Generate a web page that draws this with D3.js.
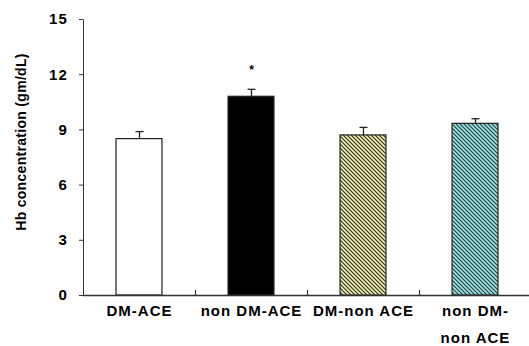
<!DOCTYPE html>
<html>
<head>
<meta charset="utf-8">
<script src="https://cdn.jsdelivr.net/npm/d3@7"></script>
<style>
  body { margin: 0; background: #fff; }
  svg { display: block; font-family: "Liberation Sans", Arial, sans-serif; }
</style>
</head>
<body>
<div id="chart"></div>
<script>
// values
const groups = ['DM-ACE', 'non DM-ACE', 'DM-non ACE', 'non DM-\nnon ACE'];
const means = [8.5, 10.8, 8.7, 9.33];
const errors = [0.38, 0.38, 0.41, 0.25];
const starred = [false, true, false, false];
const yTicks = [0, 3, 6, 9, 12, 15];

const width = 529, height = 346;
const margin = { top: 19, right: -2, bottom: 51, left: 83 };

const svg = d3.select('#chart').append('svg')
  .attr('width', width)
  .attr('height', height);

const defs = svg.append('defs');

// hatched fills for bars 3 and 4
function hatch(id, bg, fg) {
  const p = defs.append('pattern')
    .attr('id', id)
    .attr('patternUnits', 'userSpaceOnUse')
    .attr('width', 4)
    .attr('height', 4);
  p.append('rect').attr('width', 4).attr('height', 4).attr('fill', bg);
  p.append('path')
    .attr('d', 'M0,0 L4,4 M-1,3 L1,5 M3,-1 L5,1')
    .attr('stroke', fg)
    .attr('stroke-width', 1.2);
}
hatch('hatchKhaki', '#eeecb4', '#3a3a22');
hatch('hatchTeal', '#a2e2e2', '#1f4444');

const fills = ['#ffffff', '#000000', 'url(#hatchKhaki)', 'url(#hatchTeal)'];

const x = d3.scaleBand()
  .domain(groups)
  .range([margin.left, width - margin.right])
  .paddingInner(0.59)
  .paddingOuter(0.295);

const y = d3.scaleLinear()
  .domain([0, 15])
  .range([height - margin.bottom, margin.top]);

// y axis
const yAxis = svg.append('g')
  .attr('transform', `translate(${margin.left},0)`)
  .call(d3.axisLeft(y).tickValues(yTicks).tickSize(4).tickSizeOuter(0));
yAxis.select('.domain').attr('stroke', '#333');
yAxis.selectAll('.tick line').attr('stroke', '#333');
yAxis.selectAll('.tick text')
  .attr('x', -15)
  .attr('font-size', 15)
  .attr('font-weight', 'bold')
  .attr('letter-spacing', 1.2)
  .attr('font-family', '"Liberation Sans", Arial, sans-serif')
  .attr('fill', '#000');

svg.append('text')
  .attr('transform', `translate(26,${(y(0) + y(15)) / 2 - 15}) rotate(-90)`)
  .attr('text-anchor', 'middle')
  .attr('font-size', 14)
  .attr('font-weight', 'bold')
  .attr('letter-spacing', 0.3)
  .text('Hb concentration (gm/dL)');

// bars
const bars = svg.append('g');
bars.selectAll('rect')
  .data(groups)
  .join('rect')
  .attr('x', d => x(d))
  .attr('y', (d, i) => y(means[i]))
  .attr('width', x.bandwidth())
  .attr('height', (d, i) => y(0) - y(means[i]))
  .attr('fill', (d, i) => fills[i])
  .attr('stroke', '#222')
  .attr('stroke-width', 1.2);

// error bars (upper only)
const err = svg.append('g').attr('stroke', '#222').attr('stroke-width', 1.3);
groups.forEach((g, i) => {
  const cx = Math.round(x(g) + x.bandwidth() / 2) + 0.5;
  err.append('line')
    .attr('x1', cx).attr('x2', cx)
    .attr('y1', y(means[i])).attr('y2', y(means[i] + errors[i]));
  err.append('line')
    .attr('x1', cx - 4).attr('x2', cx + 4)
    .attr('y1', y(means[i] + errors[i])).attr('y2', y(means[i] + errors[i]));
  if (starred[i]) {
    svg.append('text')
      .attr('x', cx)
      .attr('y', y(means[i] + errors[i]) - 15)
      .attr('text-anchor', 'middle')
      .attr('font-size', 12)
      .attr('font-weight', 'bold')
      .text('*');
  }
});

// x axis line and separators between groups
const base = y(0);
svg.append('line')
  .attr('x1', margin.left).attr('x2', width)
  .attr('y1', base + 0.5).attr('y2', base + 0.5)
  .attr('stroke', '#333').attr('stroke-width', 1.3);

const gap = (x.step() - x.bandwidth()) / 2;
groups.slice(1).forEach(g => {
  const sx = Math.round(x(g) - gap) + 0.5;
  svg.append('line')
    .attr('x1', sx).attr('x2', sx)
    .attr('y1', base).attr('y2', base - 5)
    .attr('stroke', '#333').attr('stroke-width', 1.2);
});

// category labels
groups.forEach(g => {
  const cx = x(g) + x.bandwidth() / 2 + 0.5;
  const t = svg.append('text')
    .attr('x', cx)
    .attr('y', 316)
    .attr('text-anchor', 'middle')
    .attr('font-size', 15)
    .attr('font-weight', 'bold')
    .attr('letter-spacing', 1);
  g.split('\n').forEach((line, k) => {
    t.append('tspan')
      .attr('x', cx)
      .attr('dy', k === 0 ? 0 : 27)
      .text(line);
  });
});
</script>
</body>
</html>
